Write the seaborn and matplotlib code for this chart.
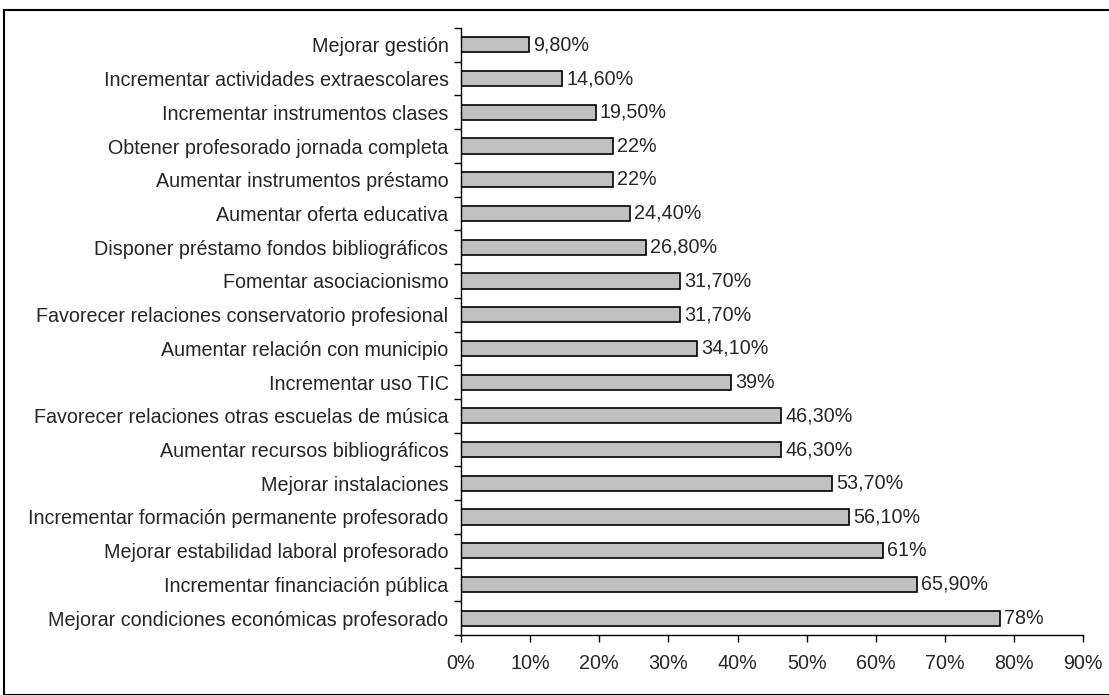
import numpy as np
import pandas as pd
import seaborn as sns
import matplotlib.pyplot as plt
from matplotlib.patches import Rectangle
from matplotlib.ticker import FixedLocator

# Data (top to bottom)
categories = [
    'Mejorar gestión',
    'Incrementar actividades extraescolares',
    'Incrementar instrumentos clases',
    'Obtener profesorado jornada completa',
    'Aumentar instrumentos préstamo',
    'Aumentar oferta educativa',
    'Disponer préstamo fondos bibliográficos',
    'Fomentar asociacionismo',
    'Favorecer relaciones conservatorio profesional',
    'Aumentar relación con municipio',
    'Incrementar uso TIC',
    'Favorecer relaciones otras escuelas de música',
    'Aumentar recursos bibliográficos',
    'Mejorar instalaciones',
    'Incrementar formación permanente profesorado',
    'Mejorar estabilidad laboral profesorado',
    'Incrementar financiación pública',
    'Mejorar condiciones económicas profesorado',
]
values = [9.8, 14.6, 19.5, 22, 22, 24.4, 26.8, 31.7, 31.7, 34.1, 39, 46.3, 46.3,
          53.7, 56.1, 61, 65.9, 78]
value_labels = ['9,80%', '14,60%', '19,50%', '22%', '22%', '24,40%', '26,80%', '31,70%',
                '31,70%', '34,10%', '39%', '46,30%', '46,30%', '53,70%', '56,10%', '61%',
                '65,90%', '78%']
x_ticks = [0, 10, 20, 30, 40, 50, 60, 70, 80, 90]

df = pd.DataFrame({'categoria': categories, 'valor': values})

sns.set_style('white')
plt.rcParams['font.family'] = ['Liberation Sans', 'DejaVu Sans']
fs = 14.2

fig = plt.figure(figsize=(11.09, 6.95), dpi=100)
ax = fig.add_axes([0.4157, 0.0863, 0.561, 0.8734])

sns.barplot(data=df, y='categoria', x='valor', orient='h', color='#C0C0C0',
            edgecolor='black', linewidth=1.2, width=0.45, saturation=1, ax=ax)

for i, (v, lab) in enumerate(zip(values, value_labels)):
    ax.text(v + 0.6, i, lab, va='center', ha='left', fontsize=fs)

ax.set_xlim(0, 90)
ax.set_ylim(len(categories) - 0.5, -0.5)
ax.set_xticks(x_ticks)
ax.set_xticklabels([f'{t}%' for t in x_ticks], fontsize=fs)
ax.tick_params(axis='x', bottom=True, direction='out', length=5, width=1, color='black', pad=9)
ax.tick_params(axis='y', which='major', left=True, length=0, labelsize=fs, pad=9)
ax.yaxis.set_minor_locator(FixedLocator(np.arange(-0.5, len(categories), 1)))
ax.tick_params(axis='y', which='minor', left=True, direction='out', length=5, width=1, color='black')
ax.set_xlabel('')
ax.set_ylabel('')

for s in ['top', 'right']:
    ax.spines[s].set_visible(False)
for s in ['left', 'bottom']:
    ax.spines[s].set_color('black')
    ax.spines[s].set_linewidth(1)

# outer chart frame
fig.patches.append(Rectangle((4 / 1109, 0), 1.1, 1 - 10 / 695, transform=fig.transFigure,
                             fill=False, edgecolor='black', linewidth=1.5))

fig.savefig('out.png', dpi=100)
